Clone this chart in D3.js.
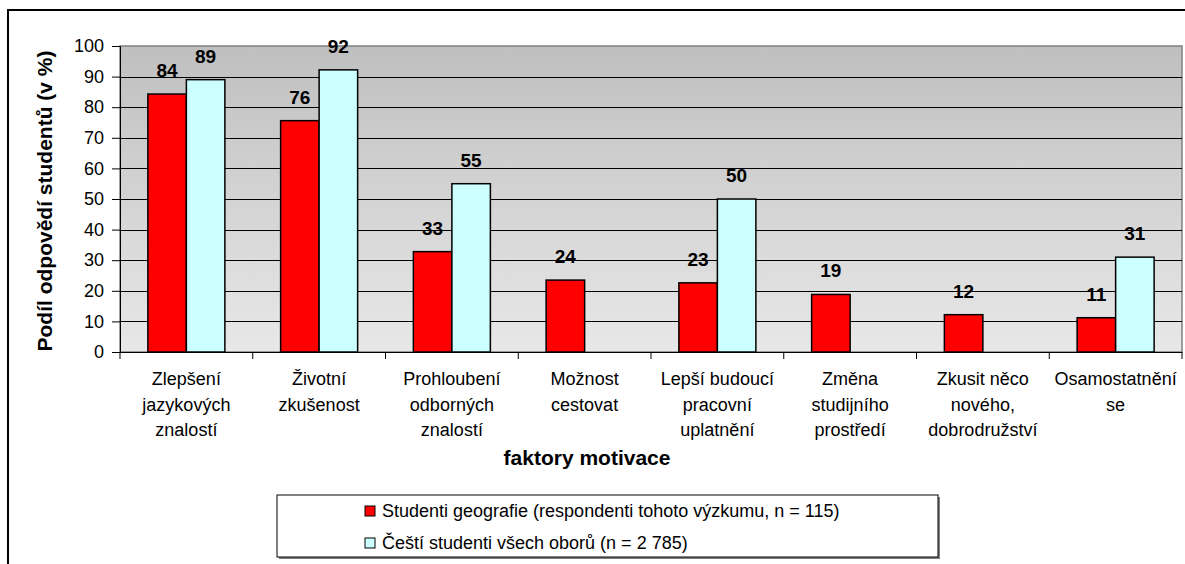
<!DOCTYPE html>
<html><head><meta charset="utf-8">
<script src="https://cdn.jsdelivr.net/npm/d3@7"></script>
<style>html,body{margin:0;padding:0;background:#fff;}svg{display:block;font-family:Arial,"Liberation Sans",sans-serif;}</style>
</head><body>
<svg id="c" width="1185" height="564"></svg>
<script>
const categories = ["Zlepšení\njazykových\nznalostí","Životní\nzkušenost","Prohloubení\nodborných\nznalostí","Možnost\ncestovat","Lepší budoucí\npracovní\nuplatnění","Změna\nstudijního\nprostředí","Zkusit něco\nnového,\ndobrodružství","Osamostatnění\nse"];
const geoValues = [84.3, 75.6, 32.8, 23.5, 22.6, 18.8, 12.2, 11.2];
const allValues = [89, 92.2, 55, null, 50, null, null, 31];
const seriesNames = ["Studenti geografie (respondenti tohoto výzkumu, n = 115)", "Čeští studenti všech oborů (n = 2 785)"];
const seriesColors = ["#ff0000", "#ccffff"];
const yTicks = [0,10,20,30,40,50,60,70,80,90,100];

const svg = d3.select("#c");
const L = 120, R = 1182, T = 46, B = 352;

// outer chart border
svg.append("rect").attr("x", 8).attr("y", 10).attr("width", 1200).attr("height", 600)
  .attr("fill", "#fff").attr("stroke", "#000").attr("stroke-width", 2);

const defs = svg.append("defs");
const g = defs.append("linearGradient").attr("id", "bg").attr("x1", 0).attr("y1", 0).attr("x2", 0).attr("y2", 1);
g.append("stop").attr("offset", "0%").attr("stop-color", "#bfbfbf");
g.append("stop").attr("offset", "100%").attr("stop-color", "#e8e8e8");

const x = d3.scaleBand().domain(d3.range(categories.length)).range([L, R]);
const y = d3.scaleLinear().domain([0, 100]).range([B, T]);
const groupW = 77;
const xs = d3.scaleBand().domain([0, 1]).range([0, groupW]);

svg.append("rect").attr("x", L).attr("y", T).attr("width", R - L).attr("height", B - T)
  .attr("fill", "url(#bg)").attr("stroke", "#808080").attr("stroke-width", 1.5);

// gridlines
svg.append("g").selectAll("line").data(yTicks.filter(d => d > 0 && d < 100)).join("line")
  .attr("x1", L).attr("x2", R).attr("y1", d => Math.round(y(d)) + 0.5).attr("y2", d => Math.round(y(d)) + 0.5)
  .attr("stroke", "#000").attr("stroke-width", 1);

// y axis
const ya = svg.append("g").attr("transform", `translate(${L},0)`)
  .call(d3.axisLeft(y).tickValues(yTicks).tickSize(8).tickPadding(8).tickFormat(d3.format("d")));
ya.select(".domain").attr("stroke", "#000");
ya.selectAll(".tick line").attr("stroke", "#000");
ya.selectAll("text").attr("font-size", 18).attr("fill", "#000").attr("font-family", "Arial, 'Liberation Sans', sans-serif");

// x axis
const xa = svg.append("g").attr("transform", `translate(0,${B})`)
  .call(d3.axisBottom(x).tickSize(0).tickFormat(""));
xa.select(".domain").attr("stroke", "#000");
svg.append("g").selectAll("line").data(d3.range(categories.length + 1)).join("line")
  .attr("x1", i => i < categories.length ? x(i) : R).attr("x2", i => i < categories.length ? x(i) : R)
  .attr("y1", B).attr("y2", B + 7).attr("stroke", "#000");

// x labels
const lbl = svg.append("g");
categories.forEach((c, i) => {
  const t = lbl.append("text").attr("text-anchor", "middle").attr("font-size", 18).attr("fill", "#000");
  c.split("\n").forEach((ln, j) => {
    t.append("tspan").attr("x", x(i) + x.bandwidth() / 2).attr("y", 385 + j * 25.5).text(ln);
  });
});

// bars
const series = [geoValues, allValues];
series.forEach((vals, s) => {
  const data = vals.map((v, i) => ({ v, i })).filter(d => d.v != null);
  const gx = i => x(i) + (x.bandwidth() - groupW) / 2 + xs(s);
  svg.append("g").selectAll("rect").data(data).join("rect")
    .attr("x", d => gx(d.i)).attr("width", xs.bandwidth())
    .attr("y", d => y(d.v)).attr("height", d => B - y(d.v))
    .attr("fill", seriesColors[s]).attr("stroke", "#000").attr("stroke-width", 1.5);
  svg.append("g").selectAll("text").data(data).join("text")
    .attr("x", d => gx(d.i) + xs.bandwidth() / 2).attr("y", d => y(d.v) - 17)
    .attr("text-anchor", "middle").attr("font-size", 19).attr("font-weight", "bold").attr("fill", "#000")
    .text(d => Math.round(d.v));
});

// axis titles
svg.append("text").attr("transform", `translate(52,${(T + B) / 2 + 2}) rotate(-90)`)
  .attr("text-anchor", "middle").attr("font-size", 21).attr("font-weight", "bold").text("Podíl odpovědí studentů (v %)");
svg.append("text").attr("x", 587).attr("y", 465).attr("text-anchor", "middle")
  .attr("font-size", 21).attr("font-weight", "bold").text("faktory motivace");

// legend
const lx = 277, ly = 495, lw = 661, lh = 62;
svg.append("rect").attr("x", lx + 2).attr("y", ly + 2).attr("width", lw).attr("height", lh).attr("fill", "#808080");
svg.append("rect").attr("x", lx).attr("y", ly).attr("width", lw).attr("height", lh).attr("fill", "#fff").attr("stroke", "#000").attr("stroke-width", 1);
seriesNames.forEach((n, i) => {
  const yy = 506 + i * 32;
  svg.append("rect").attr("x", 365).attr("y", yy).attr("width", 10).attr("height", 10)
    .attr("fill", seriesColors[i]).attr("stroke", "#000").attr("stroke-width", 1);
  svg.append("text").attr("x", 382).attr("y", yy + 11).attr("font-size", 18).attr("fill", "#000").text(n);
});
</script>
</body></html>
